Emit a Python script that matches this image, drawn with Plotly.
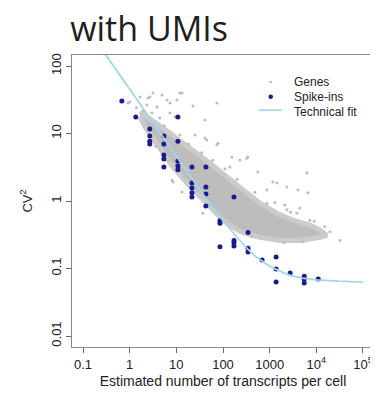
import plotly.graph_objects as go

# Spike-ins: (estimated transcripts per cell, CV^2)
spike_x = [0.68, 1.35, 2.7, 2.7, 2.7, 2.7, 5.4, 5.4, 10.8, 10.8, 5.4, 5.4, 5.4,
           10.8, 10.8, 10.8, 21.6, 43, 21.6, 21.6, 21.6, 21.6, 43, 43, 43,
           86, 86, 86, 172, 172, 172, 172, 344, 344, 344, 688, 1375, 1375, 1375,
           2750, 5500, 5500, 5500, 11000]
spike_y = [30.3, 17.5, 11.7, 9.2, 7.7, 7.0, 9.2, 7.0, 17.5, 7.7, 4.8, 4.2, 3.2,
           3.9, 3.3, 2.9, 3.2, 3.2, 1.85, 1.56, 1.32, 1.15, 1.61, 1.27, 0.84,
           0.51, 0.47, 0.21, 1.15, 0.26, 0.24, 0.215, 0.34, 0.20, 0.175, 0.134, 0.148, 0.098, 0.063,
           0.086, 0.077, 0.070, 0.061, 0.070]

# Dense core of the gene cloud (upper edge left->right, lower edge right->left)
core_x = [1.66, 3.85, 7.3, 13.8, 27.6, 52, 121, 267, 617, 1426, 3140, 7260, 11900, 16800,
          11900, 4440, 1650, 617, 267, 163, 99.5, 61, 32, 16.9, 8.46, 5.16, 3.16, 2.13, 1.66]
core_y = [20.9, 14.3, 10.2, 7.2, 5.1, 3.66, 2.27, 1.46, 0.93, 0.66, 0.52, 0.44, 0.37, 0.31,
          0.29, 0.26, 0.26, 0.29, 0.34, 0.41, 0.52, 0.74, 1.15, 1.85, 3.19, 5.14, 8.0, 12.5, 17.5]

# Scattered genes outside the dense cloud
gene_x = [1.01, 1.66, 2.47, 3.16, 4.92, 6.3, 7.3, 10.3, 3.84, 2.35, 3.0, 7.3, 9.3,
          74, 22.7, 25, 41, 78, 155, 230, 341, 558, 141, 871, 2335, 6270, 4020,
          6580, 0.92, 8.05, 13.2, 8.46, 37, 871, 2335, 3820, 7260, 1426, 2115,
          31860, 19450, 13.2, 41, 2.72, 11.9, 45, 74, 325, 1170, 4440,
          1.4, 2.0, 4.4, 5.5, 12, 18, 35, 60, 110, 200, 480, 1300, 2800, 9000, 15000,
          3.6, 6.8, 15, 28, 55, 140, 420, 2000, 5200]
gene_y = [29.3, 34.7, 33.6, 39.8, 37.2, 31.3, 28.3, 31.3, 24.7, 26.4, 20.1, 20.1, 17.5,
          28.3, 25.5, 9.5, 8.6, 7.2, 4.5, 4.05, 4.5, 2.7, 3.2, 1.46, 1.61, 2.6, 1.46,
          1.32, 28.3, 2.05, 1.36, 1.91, 0.66, 0.93, 0.74, 0.66, 0.52, 1.85, 0.87,
          0.26, 0.35, 39.8, 15.8, 34.8, 39.8, 8.0, 6.8, 4.3, 1.91, 0.79,
          24, 22, 17, 13, 9.5, 7.0, 5.2, 4.0, 3.0, 2.1, 1.35, 0.95, 0.68, 0.5, 0.42,
          6.5, 3.9, 2.3, 1.4, 0.9, 0.5, 0.3, 0.24, 0.25]

# Technical fit curve
fit_x = [0.3, 0.5, 1, 2, 3, 5, 10, 20, 30, 50, 100, 200, 300, 500, 1000, 2000,
         3000, 5000, 10000, 30000, 100000]
fit_y = [150, 90, 45, 22.6, 15, 9.1, 4.6, 2.3, 1.56, 0.96, 0.51, 0.29, 0.21, 0.15,
         0.108, 0.086, 0.078, 0.072, 0.068, 0.065, 0.063]

x_tickvals = [0.1, 1, 10, 100, 1000, 1e4, 1e5]
x_ticktext = ["0.1", "1", "10", "100", "1000", "10<sup>4</sup>", "10<sup>5</sup>"]
y_tickvals = [0.01, 0.1, 1, 10, 100]
y_ticktext = ["0.01", "0.1", "1", "10", "100"]

legend_labels = ["Genes", "Spike-ins", "Technical fit"]

GRAY = "#bdbdbd"
NAVY = "#1b1b8a"
FIT = "#a3d6ea"
FONT = "Liberation Sans, Arial"

fig = go.Figure()
fig.add_trace(go.Scatter(x=core_x, y=core_y, mode="lines", fill="toself",
                         fillcolor=GRAY, line=dict(color="#cbcbcb", width=5),
                         showlegend=False, hoverinfo="skip"))
fig.add_trace(go.Scatter(x=gene_x, y=gene_y, mode="markers", name="Genes",
                         marker=dict(color=GRAY, size=3), showlegend=False))
fig.add_trace(go.Scatter(x=spike_x, y=spike_y, mode="markers", name="Spike-ins",
                         marker=dict(color=NAVY, size=5), showlegend=False))
fig.add_trace(go.Scatter(x=fit_x, y=fit_y, mode="lines", name="Technical fit",
                         line=dict(color=FIT, width=1.8), showlegend=False))

# Hand-placed legend (R-style compact spacing)
leg_y = [0.9075, 0.857, 0.806]
for lab, yy in zip(legend_labels, leg_y):
    fig.add_annotation(text=lab, xref="paper", yref="paper", x=0.728, y=yy,
                       xanchor="left", yanchor="middle", showarrow=False,
                       font=dict(family=FONT, size=12, color="#222"))
fig.add_shape(type="circle", xref="paper", yref="paper",
              x0=0.658 - 0.0045, x1=0.658 + 0.0045, y0=leg_y[0] - 0.0045, y1=leg_y[0] + 0.0045,
              fillcolor=GRAY, line=dict(width=0))
fig.add_shape(type="circle", xref="paper", yref="paper",
              x0=0.658 - 0.0075, x1=0.658 + 0.0075, y0=leg_y[1] - 0.0075, y1=leg_y[1] + 0.0075,
              fillcolor=NAVY, line=dict(width=0))
fig.add_shape(type="line", xref="paper", yref="paper",
              x0=0.619, x1=0.695, y0=leg_y[2] + 0.005, y1=leg_y[2] + 0.005,
              line=dict(color=FIT, width=1.8))

axis_common = dict(type="log", showgrid=False, zeroline=False, showline=True,
                   linecolor="#888", linewidth=1, mirror=True, ticks="outside",
                   ticklen=5, tickcolor="#666", automargin=False,
                   tickfont=dict(family=FONT, size=13, color="#222"))

# The page body has an 8px default margin, so the figure is 8px smaller
fig.update_layout(
    width=370, height=385,
    margin=dict(l=64, r=4, t=47, b=46),
    paper_bgcolor="white", plot_bgcolor="white",
    title=dict(text="with UMIs", x=0.168, xanchor="left", xref="container",
               y=0.975, yanchor="top", yref="container",
               font=dict(family="Open Sans", size=34, color="#1e1e1e", weight=500)),
    xaxis=dict(range=[-1.236, 5.236], tickvals=x_tickvals, ticktext=x_ticktext,
               title=dict(text="Estimated number of transcripts per cell", standoff=5,
                          font=dict(family=FONT, size=14, color="#222")),
               **axis_common),
    yaxis=dict(range=[-2.163, 2.163], tickvals=y_tickvals, ticktext=y_ticktext,
               tickangle=-90,
               title=dict(text="CV<sup>2</sup>", standoff=13,
                          font=dict(family=FONT, size=13, color="#222")),
               **axis_common),
    showlegend=False,
)

fig.write_html("out.html")
